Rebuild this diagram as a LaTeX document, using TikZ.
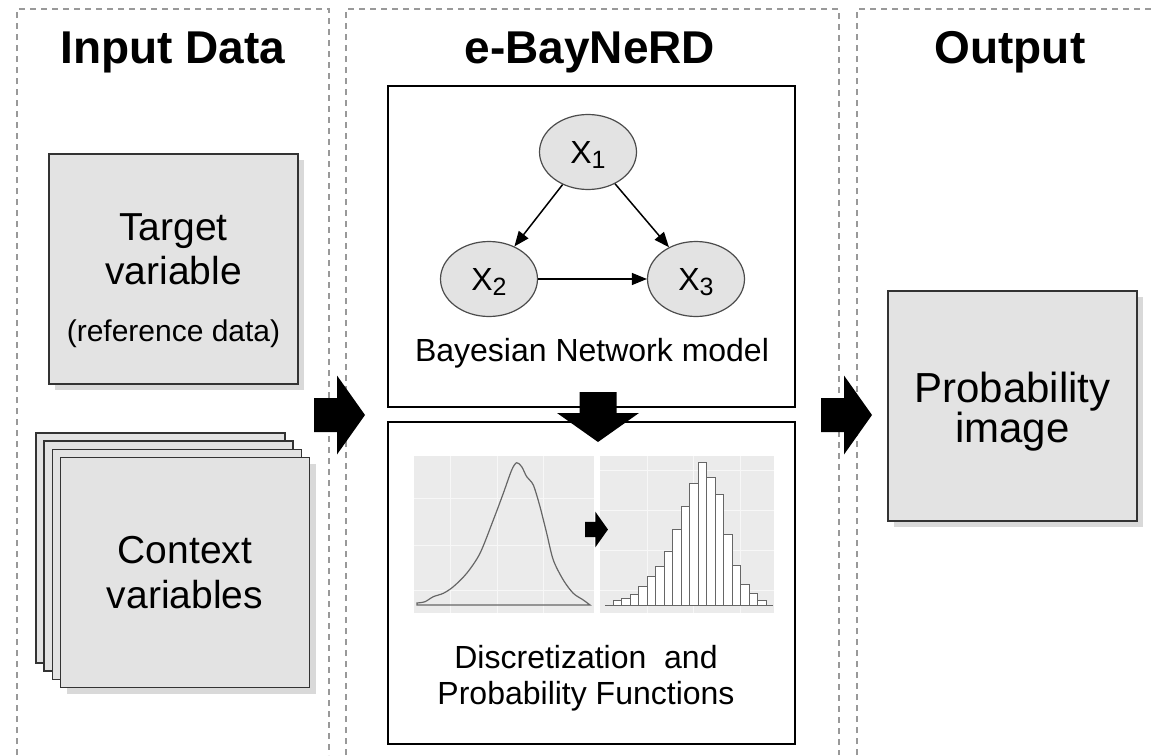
\documentclass[tikz,border=0pt]{standalone}
\usepackage{fontspec}
\setmainfont{Liberation Sans}
\usetikzlibrary{shapes.geometric, arrows.meta, shadows}

\definecolor{boxgray}{HTML}{E3E3E3}
\definecolor{plotgray}{HTML}{EBEBEB}
\definecolor{panelgray}{HTML}{999999}
\definecolor{curvegray}{HTML}{666666}

\newcommand{\xvar}[1]{X\raisebox{-5pt}{\fontsize{25}{25}\selectfont #1}}

\begin{document}
\begin{tikzpicture}[
    x=1pt, y=-1pt,
    >={Triangle[length=15pt, width=12pt]},
    panel/.style={draw=panelgray, line width=1.2pt, dash pattern=on 6pt off 5pt},
    paneltitle/.style={font=\bfseries\fontsize{46}{50}\selectfont, anchor=base},
    graybox/.style={draw=black!80, line width=1.5pt, fill=boxgray,
        minimum width=249pt, minimum height=230pt, inner sep=0pt},
    shadowed/.style={drop shadow={shadow xshift=6pt, shadow yshift=-6pt, fill=black!15, opacity=1}},
    boxtext/.style={align=center, font=\fontsize{39}{44}\selectfont},
    netframe/.style={draw=black, line width=1.5pt, minimum width=407pt, inner sep=0pt},
    bnvar/.style={ellipse, draw=black!70, line width=1.2pt, fill=boxgray,
        minimum width=97pt, minimum height=75pt, inner sep=0pt,
        font=\fontsize{32}{32}\selectfont, text depth=0pt},
    link/.style={->, line width=1.5pt},
    captext/.style={align=center, font=\fontsize{32}{36}\selectfont},
    plotbg/.style={fill=plotgray},
    plotgrid/.style={draw=plotgray!40!white, line width=0.8pt},
    histbar/.style={draw=curvegray, line width=1pt, fill=white},
    densline/.style={draw=curvegray, line width=1.2pt},
    blockright/.pic={\fill (0,-17) -- (23,-17) -- (23,-39.5) -- (51,0) -- (23,39.5) -- (23,17) -- (0,17) -- cycle;},
    blockdown/.pic={\fill (-18.5,0) -- (18.5,0) -- (18.5,21) -- (41,21) -- (0,50) -- (-41,21) -- (-18.5,21) -- cycle;}
]
\useasboundingbox (0,0) rectangle (1151,755);

% panels
\draw[panel] (17,755) -- (17,9) -- (329,9) -- (329,755);
\draw[panel] (346,755) -- (346,9) -- (839,9) -- (839,755);
\draw[panel] (857,755) -- (857,9) -- (1151,9);
\node[paneltitle] (tin) at (173,63) {Input Data};
\node[paneltitle] (tnet) at (590,63) {e-BayNeRD};
\node[paneltitle] (tout) at (1010,63) {Output};

% input data
\node[graybox, shadowed] (target) at (173.5,269) {};
\node[boxtext] (targettxt) at ([yshift=-12pt]target.center)
    {Target\\variable\\[13pt]{\fontsize{30}{34}\selectfont (reference data)}};
\foreach \k in {3,2,1}
    \node[graybox] (ctx\k) at ({185-8.2*\k},{572.5-8.2*\k}) {};
\node[graybox, shadowed] (ctx0) at (185,572.5) {};
\node[boxtext, font=\fontsize{39}{45}\selectfont] (ctxtxt) at (ctx0.center) {Context\\variables};

% e-BayNeRD
\node[netframe, minimum height=321pt] (net) at (591.5,246.5) {};
\node[netframe, minimum height=322pt] (disc) at (591.5,583) {};
\node[bnvar] (x1) at (588,152) {\xvar{1}};
\node[bnvar] (x2) at (489,279) {\xvar{2}};
\node[bnvar] (x3) at (696,279) {\xvar{3}};
\draw[link] (x1) -- (x2);
\draw[link] (x1) -- (x3);
\draw[link, line width=1.2pt] (x2) -- (x3);
\node[captext, anchor=base] (netcap) at (592,361) {Bayesian Network model};

% plots
\fill[plotbg] (414,456) rectangle (594,613);
\fill[plotbg] (600,456) rectangle (774,613);
\foreach \gx in {450,497,543}
    \draw[plotgrid] (\gx,456) -- (\gx,613);
\foreach \gy in {498,545,590}
    \draw[plotgrid] (414,\gy) -- (594,\gy);
\foreach \gx in {647,693,740}
    \draw[plotgrid] (\gx,456) -- (\gx,613);
\foreach \gy in {470,510,550,590}
    \draw[plotgrid] (600,\gy) -- (774,\gy);
\draw[densline] plot[smooth, tension=0.5] coordinates {(417,603) (425,601.7) (433.3,596.7)
    (443.3,593.3) (453.3,586.7) (466.7,573.3) (480,553.3) (493.3,520) (503.3,493.3)
    (511.7,470) (516.7,462.7) (521.7,466.7) (526.7,476.7) (533.3,485) (540,506.7)
    (546.7,533.3) (553.3,560) (563.3,580) (573.3,593.3) (583.3,600) (590,605)}
    -- (417,605) -- cycle;
\draw[densline] (605,605.7) -- (773,605.7);
\foreach \t [count=\i from 0] in {600.7,598.3,594,586.7,576.7,566.7,551,529.3,506.7,
        483.3,462.7,477.3,494.3,534,565,584,593.3,600.7}
    \draw[histbar] ({613.3+8.5*\i},605.7) rectangle ({621.8+8.5*\i},\t);
\pic[scale=0.45] at (585,529.5) {blockright};
\node[captext] (disccap) at (586,678) {Discretization\ \ and\\Probability Functions};

% output
\node[graybox, shadowed] (prob) at (1012.5,406) {};
\node[boxtext, font=\fontsize{42}{39}\selectfont] (probtxt) at ([yshift=-6pt]prob.center) {Probability\\image};

% block arrows
\pic at (314,415) {blockright};
\pic at (821,415) {blockright};
\pic at (598,392) {blockdown};
\end{tikzpicture}
\end{document}
